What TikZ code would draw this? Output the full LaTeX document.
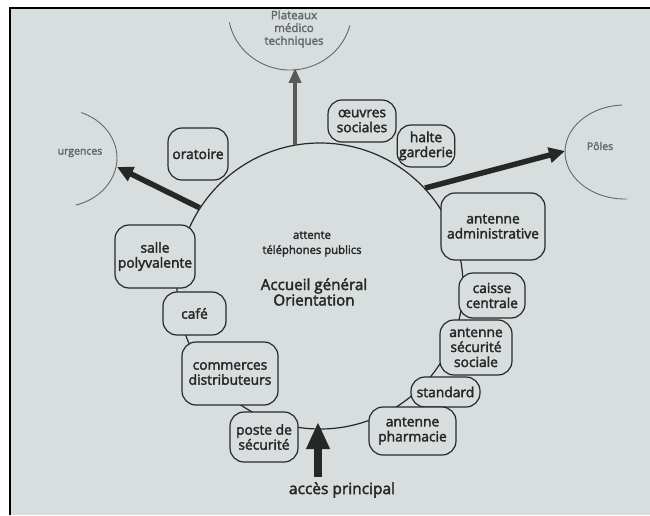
\documentclass[tikz,border=0pt]{standalone}
\usepackage{fontspec}
\setmainfont{Open Sans}
\newfontfamily\plainbold{Open Sans}[FakeBold=2.4]
\usetikzlibrary{arrows.meta}
\definecolor{paper}{RGB}{216,222,222}
\definecolor{ink}{RGB}{38,40,40}
\definecolor{pale}{RGB}{100,104,104}
\definecolor{mid}{RGB}{88,90,90}

\begin{document}
\begin{tikzpicture}[x=1pt, y=1pt,
  room/.style={draw=ink, fill=paper, line width=1.2pt, rounded corners=14pt,
               align=center, inner sep=2pt, text=ink,
               font=\plainbold\fontsize{13.8}{15}\selectfont},
  zone/.style={draw=pale, line width=0.9pt},
  zonelabel/.style={text=pale, align=center, font=\plainbold\fontsize{10.5}{13}\selectfont},
  flow/.style={draw=ink, line width=5.5pt, -{Triangle[length=16pt, width=15pt]}}]
\useasboundingbox (0,0) rectangle (650,515);

% photo background and frame
\fill[white] (0,0) rectangle (650,515);
\fill[paper] (9,0) rectangle (650,506);
\draw[black, line width=2pt] (9.5,0) -- (9.5,506.5) -- (650,506.5);

% outer zones
\coordinate (urgc) at (60,357);
\coordinate (polc) at (625,363);
\coordinate (platc) at (290,505);
\draw[zone] (urgc) ++(68:57 and 49) arc[start angle=68, end angle=-74, x radius=57, y radius=49];
\draw[zone] (polc) ++(93:60 and 47) arc[start angle=93, end angle=272, x radius=60, y radius=47];
\draw[zone] (platc) ++(192:62 and 60) arc[start angle=192, end angle=345, x radius=62, y radius=60];
\node[zonelabel] (urg) at (80,362) {urgences};
\node[zonelabel] (poles) at (600,369) {Pôles};
\node[zonelabel, font=\plainbold\fontsize{11.5}{12.8}\selectfont] (plat) at (294,486) {Plateaux\\médico\\techniques};
\coordinate (urgtip) at (117,348);
\coordinate (poltip) at (565,364);
\coordinate (plattip) at (296,447);

% main hall
\node[circle, draw=ink, line width=1.2pt, minimum size=286pt, inner sep=0pt] (hall) at (320,229) {};
\node[text=ink, align=center, font=\plainbold\fontsize{11.3}{15}\selectfont] (wait) at (312,271) {attente\\téléphones publics};
\node[text=ink, align=center, font=\plainbold\fontsize{15.2}{15.5}\selectfont] (desk) at (314,223) {Accueil général\\Orientation};

% flows out of the hall
\draw[flow] (hall.147) -- (urgtip);
\draw[flow] (hall.43) -- (poltip);
\draw[draw=mid, line width=4pt, -{Triangle[length=15pt, width=12pt]}] (hall.100) -- (hall.100 |- plattip);

% main entrance
\node[text=ink, font=\plainbold\fontsize{15.5}{16}\selectfont] (entry) at (342,25) {accès principal};
\coordinate (entrytip) at (318,93);
\draw[draw=ink, line width=8pt, -{Triangle[length=27pt, width=22pt]}] ([yshift=2pt]entry.north -| entrytip) -- (entrytip);

% rooms round the hall
\node[room, minimum width=60pt, minimum height=52pt] (oratory) at (198,361) {oratoire};
\node[room, minimum width=68pt, minimum height=42pt] (social) at (362,394) {œuvres\\sociales};
\node[room, minimum width=56pt, minimum height=42pt] (creche) at (426,369) {halte\\garderie};
\node[room, minimum width=104pt, minimum height=67pt] (admin) at (493,288.5) {antenne\\administrative};
\node[room, minimum width=66pt, minimum height=45pt] (cash) at (492,219.5) {caisse\\centrale};
\node[room, minimum width=72pt, minimum height=55pt] (secu) at (476,167.5) {antenne\\sécurité\\sociale};
\node[room, minimum width=69pt, minimum height=30pt] (switch) at (445.5,123) {standard};
\node[room, minimum width=87pt, minimum height=48pt] (pharma) at (412.5,84) {antenne\\pharmacie};
\node[room, minimum width=68pt, minimum height=50pt] (guard) at (264,78) {poste de\\sécurité};
\node[room, minimum width=96pt, minimum height=63pt] (shops) at (230,141.5) {commerces\\distributeurs};
\node[room, minimum width=63pt, minimum height=43pt] (cafe) at (194.5,201.5) {café};
\node[room, minimum width=80pt, minimum height=63pt] (multi) at (155,258.5) {salle\\polyvalente};
\end{tikzpicture}
\end{document}
